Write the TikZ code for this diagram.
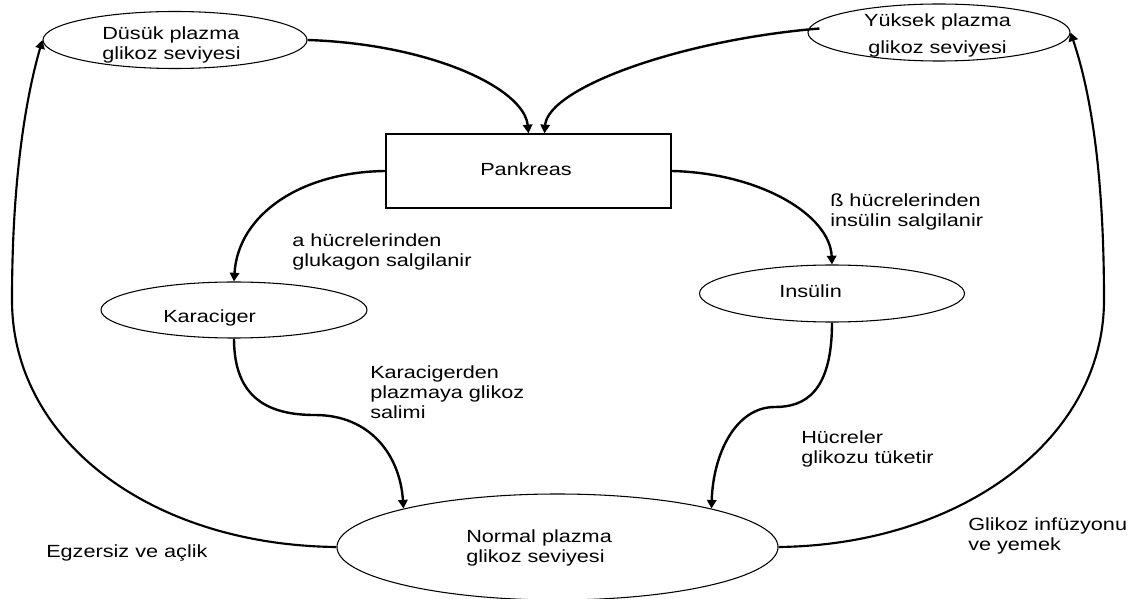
\documentclass[tikz,border=0pt]{standalone}
\usepackage{fontspec}
\setmainfont{Liberation Sans}[FakeStretch=1.23]
\usetikzlibrary{shapes.geometric,arrows.meta}

\begin{document}
\begin{tikzpicture}[x=0.75pt, y=-0.75pt,
  ellnode/.style={draw=black, ellipse, line width=0.8pt, inner sep=0pt},
  boxnode/.style={draw=black, rectangle, line width=1pt, inner sep=0pt},
  lbltxt/.style={font=\fontsize{13.2}{15}\selectfont, inner sep=0pt,
                 align=left, anchor=base west},
  flowarr/.style={line width=1.8pt, -{Triangle[length=6.5pt,width=7pt]}},
  loopline/.style={line width=1.6pt, -{Triangle[length=6.5pt,width=7pt]}}]

\useasboundingbox (0,0) rectangle (1133,599);

% ---- (1) states and organs --------------------------------------
\node[ellnode, minimum width=198pt, minimum height=42.75pt]
      (dusuk) at (175,40) {};
\node[ellnode, minimum width=196.5pt, minimum height=42.75pt]
      (yuksek) at (939,32.5) {};
\node[boxnode, minimum width=213.75pt, minimum height=55.5pt]
      (pankreas) at (528.5,171) {};
\node[ellnode, minimum width=199.5pt, minimum height=42pt]
      (karaciger) at (234,310) {};
\node[ellnode, minimum width=198.75pt, minimum height=42.75pt]
      (insulin) at (832,293.5) {};
\node[ellnode, minimum width=330.75pt, minimum height=79.5pt]
      (normal) at (557.5,547) {};

% ---- (2) texts inside the shapes (base = last line) -------------
\node[lbltxt] (dusuk-t) at (102,60) {Düsük plazma\\glikoz seviyesi};
\node[lbltxt, align=center, anchor=base,
      font=\fontsize{13.2}{20.25}\selectfont]
      (yuksek-t) at (937.5,54) {Yüksek plazma\\glikoz seviyesi};
\node[lbltxt, anchor=base] (pankreas-t) at (526,176) {Pankreas};
\node[lbltxt] (karaciger-t) at (163,323) {Karaciger};
\node[lbltxt] (insulin-t) at (779,298) {Insülin};
\node[lbltxt] (normal-t) at (466,562) {Normal plazma\\glikoz seviyesi};

% ---- (3) arrows into the pancreas -------------------------------
\draw[flowarr] (dusuk.east)
   .. controls (430,44) and (524,88) .. (pankreas.north);
\draw[flowarr] ([xshift=9pt,yshift=3pt]yuksek.west)
   .. controls (680,40) and (548,88) .. ([xshift=12pt]pankreas.north);

% ---- (4) hormone branches ---------------------------------------
\draw[flowarr] (pankreas.west)
   .. controls (300,172) and (238,215) .. (karaciger.north);
\draw[flowarr] (pankreas.east)
   .. controls (760,173) and (830,215) .. (insulin.north);
\draw[flowarr] (karaciger.south)
   .. controls (234,398) and (268,415) .. (315,415)
   .. controls (370,415) and (400,455) .. (normal.166);
\draw[flowarr] (insulin.south)
   .. controls (832,392) and (805,407) .. (775,407)
   .. controls (735,407) and (713,455) .. (normal.14);

% ---- (5) outer loops --------------------------------------------
\draw[loopline] (normal.west)
   .. controls (150,545) and (12,440) .. (12,300)
   .. controls (12,170) and (28,90) .. (dusuk.west);
\draw[loopline] (normal.east)
   .. controls (960,545) and (1104,440) .. (1104,300)
   .. controls (1104,170) and (1090,90) .. (yuksek.east);

% ---- (6) labels on the arrows -----------------------------------
\node[lbltxt] (alfa-t) at (292,267) {a hücrelerinden\\glukagon salgilanir};
\node[lbltxt] (beta-t) at (830,227) {ß hücrelerinden\\insülin salgilanir};
\node[lbltxt] (salim-t) at (370,418)
      {Karacigerden\\plazmaya glikoz\\salimi};
\node[lbltxt] (tuket-t) at (801,463) {Hücreler\\glikozu tüketir};
\node[lbltxt] (aclik-t) at (46,557) {Egzersiz ve açlik};
\node[lbltxt] (yemek-t) at (968,550) {Glikoz infüzyonu\\ve yemek};

\end{tikzpicture}
\end{document}
